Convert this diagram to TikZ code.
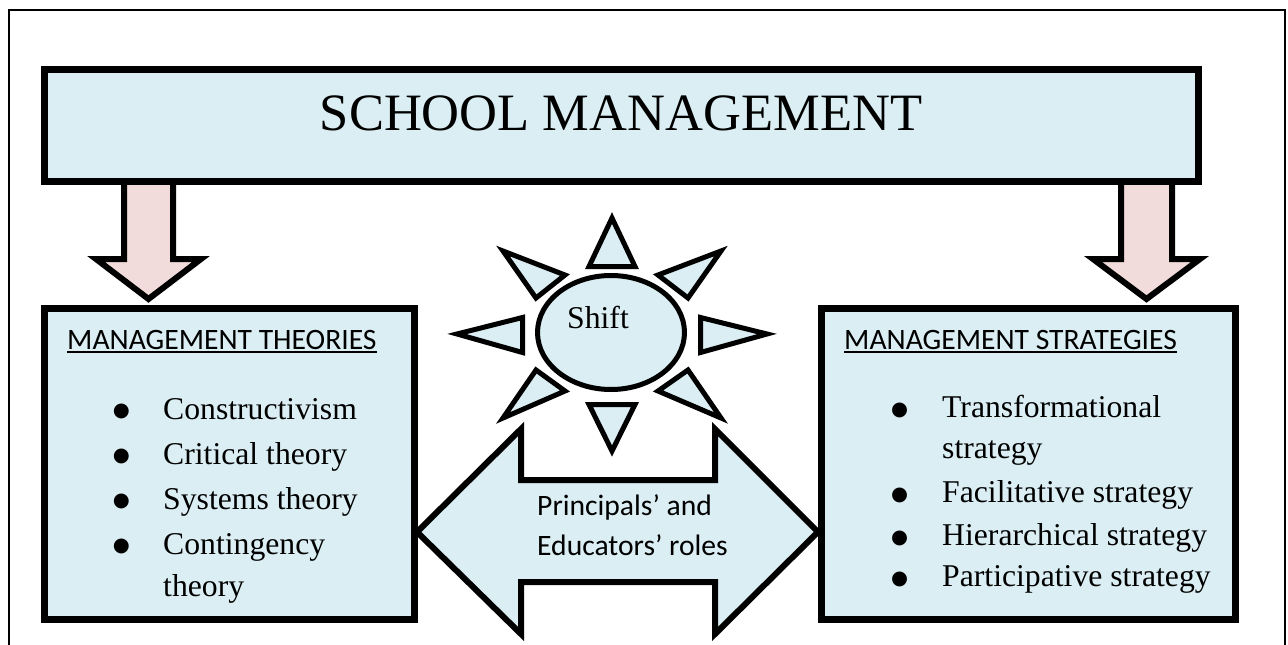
\documentclass[tikz,border=0pt]{standalone}
\usepackage{fontspec}
\usetikzlibrary{shapes.geometric}
\setmainfont{Liberation Serif}
\newfontfamily\calfont{Carlito}
\newfontfamily\symfont{DejaVu Sans}
\definecolor{lblue}{HTML}{DAEEF3}
\definecolor{lpink}{HTML}{F2DCDB}
\begin{document}
\begin{tikzpicture}[x=1pt,y=-1pt,
  boxstyle/.style={draw=black,fill=lblue,line width=7pt,rectangle,inner sep=0pt},
  downarrow/.style={draw=black,fill=lpink,line width=6pt,line join=miter},
  bigarrow/.style={draw=black,fill=lblue,line width=6pt,line join=miter},
  ray/.style={draw=black,fill=lblue,line width=5pt,line join=miter},
  itemtext/.style={anchor=base west,inner sep=0pt,font=\fontsize{31.7}{38}\selectfont},
  bul/.style={anchor=center,inner sep=0pt,font=\symfont\fontsize{19.5}{20}\selectfont},
  headtext/.style={anchor=base west,inner sep=0pt,font=\calfont\fontsize{29.6}{34}\selectfont},
  roletext/.style={anchor=base west,inner sep=0pt,font=\calfont\fontsize{29.6}{36}\selectfont}]
\useasboundingbox (0,0) rectangle (1288,645);
% outer frame (open at the bottom)
\draw[line width=2pt] (9,645) -- (9,10) -- (1285,10) -- (1285,645);

% down arrows (drawn below the banner)
\draw[downarrow] (124,181) -- (124,259) -- (96,259) -- (148.5,299) -- (201,259) -- (173,259) -- (173,181) -- cycle;
\draw[downarrow] (1121,181) -- (1121,259) -- (1093,259) -- (1146.5,299) -- (1200,259) -- (1172,259) -- (1172,181) -- cycle;

% banner
\node[boxstyle,minimum width=1154pt,minimum height=112pt] (banner) at (621,125) {};
\node[anchor=base,inner sep=0pt,font=\fontsize{52.5}{60}\selectfont] (bannertext) at (621,130) {SCHOOL MANAGEMENT};

% double arrow
\draw[bigarrow] (417,532) -- (521,429) -- (521,480) -- (715,480) -- (715,429) -- (818,532)
   -- (715,634) -- (715,582) -- (521,582) -- (521,634) -- cycle;
\node[roletext] (role1) at (537,515) {Principals’ and};
\node[roletext] (role2) at (537,555) {Educators’ roles};

% left box
\node[boxstyle,minimum width=369.5pt,minimum height=311pt] (lbox) at (229.25,464) {};
\node[headtext] (lhead) at (67,349) {MANAGEMENT THEORIES};
\draw[line width=1.8pt] ([yshift=-3pt]lhead.base west) -- ([yshift=-3pt]lhead.base east);
\node[bul] (lb1) at (121.5,411.5) {●};
\node[bul] (lb2) at (121.5,456.5) {●};
\node[bul] (lb3) at (121.5,501.5) {●};
\node[bul] (lb4) at (121.5,546.5) {●};
\node[itemtext] (li1) at (163,419) {Constructivism};
\node[itemtext] (li2) at (163,464) {Critical theory};
\node[itemtext] (li3) at (163,509) {Systems theory};
\node[itemtext] (li4) at (163,554) {Contingency};
\node[itemtext] (li5) at (163,596) {theory};

% right box
\node[boxstyle,minimum width=414pt,minimum height=311pt] (rbox) at (1028.5,464) {};
\node[headtext] (rhead) at (844,349) {MANAGEMENT STRATEGIES};
\draw[line width=1.8pt] ([yshift=-3pt]rhead.base west) -- ([yshift=-3pt]rhead.base east);
\node[bul] (rb1) at (899.5,410.5) {●};
\node[bul] (rb2) at (899.5,495.5) {●};
\node[bul] (rb3) at (899.5,538.5) {●};
\node[bul] (rb4) at (899.5,579.5) {●};
\node[itemtext] (ri1) at (942,417) {Transformational};
\node[itemtext] (ri2) at (942,458) {strategy};
\node[itemtext] (ri3) at (942,502) {Facilitative strategy};
\node[itemtext] (ri4) at (942,545) {Hierarchical strategy};
\node[itemtext] (ri5) at (942,586) {Participative strategy};

% sun: ellipse with rays
\node[draw=black,fill=lblue,line width=5pt,ellipse,minimum width=147pt,minimum height=114pt,inner sep=0pt] (shift) at (611,332.5) {};
\node[itemtext] (shifttext) at (567,328) {Shift};
\draw[ray] (612,218) -- (589,266.5) -- (635,266.5) -- cycle;
\draw[ray] (612,451) -- (589,404.5) -- (635,404.5) -- cycle;
\draw[ray] (767,334) -- (700.5,317.5) -- (700.5,352.5) -- cycle;
\draw[ray] (457,334) -- (522.5,317.5) -- (522.5,352.5) -- cycle;
\draw[ray] (503,251) -- (536,298) -- (565,275) -- cycle;
\draw[ray] (721,251) -- (658,275) -- (688,298) -- cycle;
\draw[ray] (503,418) -- (536,370) -- (565,391) -- cycle;
\draw[ray] (721,418) -- (658,391) -- (688,370) -- cycle;
\end{tikzpicture}
\end{document}
